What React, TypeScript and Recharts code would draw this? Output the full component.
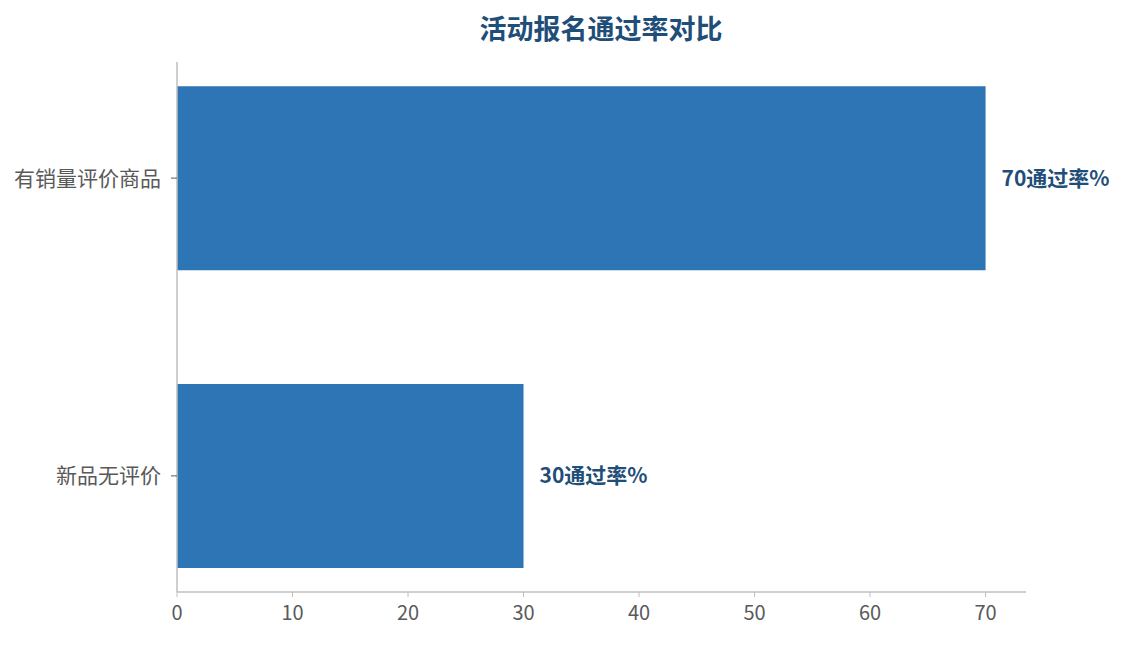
import React from "react";
import { BarChart, Bar, XAxis, YAxis, LabelList } from "recharts";

const categories = ["有销量评价商品", "新品无评价"];
const positions = [0, 1];
const passRates = [70, 30];
const xTicks = [0, 10, 20, 30, 40, 50, 60, 70];

const data = categories.map((name, i) => ({ name, idx: positions[i], value: passRates[i] }));

const FONT = '"Noto Sans CJK SC", "Noto Sans", sans-serif';

export default function App() {
  return (
    <div style={{ position: "absolute", left: 0, top: 0, width: 1125, height: 645, background: "#fff", fontFamily: FONT }}>
      <div
        style={{
          position: "absolute",
          left: 0,
          width: 1202,
          top: 9,
          textAlign: "center",
          fontSize: 27,
          fontWeight: 700,
          color: "#1f4e79",
          lineHeight: "38px",
        }}
      >
        活动报名通过率对比
      </div>
      <BarChart
        width={1125}
        height={645}
        data={data}
        layout="vertical"
        margin={{ top: 62, right: 99, bottom: 0, left: 0 }}
      >
        <XAxis
          type="number"
          domain={[0, 73.5]}
          ticks={xTicks}
          allowDataOverflow
          height={53}
          axisLine={{ stroke: "#bfbfbf", strokeWidth: 1.5 }}
          tickLine={{ stroke: "#bfbfbf", strokeWidth: 1 }}
          tickSize={5}
          tickMargin={9}
          tick={{ fill: "#595959", fontSize: 20, fontFamily: FONT }}
        />
        <YAxis
          type="number"
          dataKey="idx"
          domain={[-0.39, 1.39]}
          ticks={positions}
          allowDataOverflow
          width={177}
          tickFormatter={(v: number) => categories[positions.indexOf(v)] ?? ""}
          axisLine={{ stroke: "#bfbfbf", strokeWidth: 1.5 }}
          tickLine={{ stroke: "#595959", strokeWidth: 1 }}
          tickSize={6}
          tickMargin={10}
          tick={{ fill: "#595959", fontSize: 21, fontFamily: FONT }}
        />
        <Bar dataKey="value" fill="#2e75b6" barSize={184} isAnimationActive={false}>
          <LabelList
            dataKey="value"
            position="right"
            offset={16}
            formatter={(v: any) => `${v}通过率%`}
            style={{ fill: "#1f4e79", fontSize: 21, fontWeight: 700, fontFamily: FONT }}
          />
        </Bar>
      </BarChart>
    </div>
  );
}
